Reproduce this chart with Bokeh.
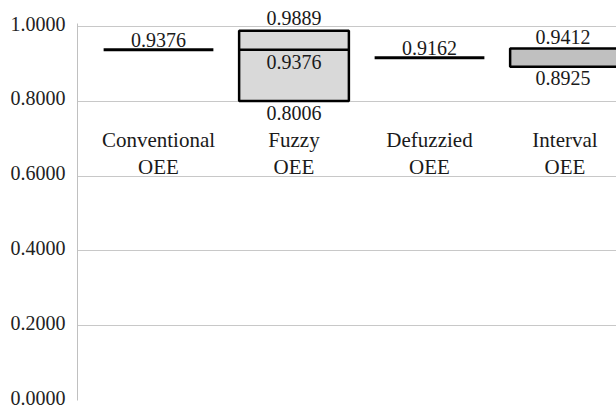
from bokeh.plotting import figure
from bokeh.models import Range1d, FixedTicker
from bokeh.core.properties import value
from bokeh.embed import file_html
from bokeh.resources import INLINE

# ---- data ----
cat_line1 = ["Conventional", "Fuzzy", "Defuzzied", "Interval"]
cat_line2 = ["OEE", "OEE", "OEE", "OEE"]
cat_pos = [1, 2, 3, 4]

# single-value results (drawn as lines)
line_cats = [1, 3]
line_vals = [0.9376, 0.9162]

# fuzzy OEE (triangular: low, mid, high)
fuzzy_low = [0.8006]
fuzzy_mid = [0.9376]
fuzzy_high = [0.9889]

# interval OEE
interval_low = [0.8925]
interval_high = [0.9412]

y_ticks = [0.0, 0.2, 0.4, 0.6, 0.8, 1.0]
y_tick_labels = ["0.0000", "0.2000", "0.4000", "0.6000", "0.8000", "1.0000"]

FONT = value("Liberation Serif")
FS = "20px"
TXT = "#1a1a1a"
W = 0.81
FRAME_H = 400
Y_TOP = 1 + 26 / 374
PX = Y_TOP / FRAME_H        # data units per pixel
LABEL_LIFT = 3 * PX         # axis labels sit slightly above their gridlines

p = figure(width=616, height=410, output_backend="svg", toolbar_location=None,
           x_range=Range1d(0.4022, 4.380), y_range=Range1d(0, Y_TOP),
           min_border_left=77, min_border_right=0, min_border_top=0,
           min_border_bottom=410 - FRAME_H)
p.outline_line_color = None
p.background_fill_color = "white"
p.border_fill_color = "white"

p.xaxis.visible = False
p.xgrid.visible = False

label_pos = [t + LABEL_LIFT for t in y_ticks]
p.yaxis.ticker = FixedTicker(ticks=label_pos)
p.yaxis.major_label_overrides = {pos: lab for pos, lab in zip(label_pos, y_tick_labels)}
p.yaxis.bounds = (0, 1 + LABEL_LIFT * 1.01)
p.yaxis.major_tick_line_color = None
p.yaxis.minor_tick_line_color = None
p.yaxis.major_tick_out = 0
p.yaxis.major_tick_in = 0
p.yaxis.minor_tick_out = 0
p.yaxis.axis_line_color = "#c0c0c0"
p.yaxis.major_label_text_font = "Liberation Serif"
p.yaxis.major_label_text_font_size = FS
p.yaxis.major_label_text_color = "#222222"
p.yaxis.major_label_standoff = 12
p.ygrid.ticker = FixedTicker(ticks=y_ticks)
p.ygrid.grid_line_color = "#c8c8c8"
p.ygrid.grid_line_width = 1

# single value lines
p.segment(x0=[c - W / 2 for c in line_cats], x1=[c + W / 2 for c in line_cats],
          y0=line_vals, y1=line_vals, line_color="black", line_width=3)
p.text(x=line_cats, y=line_vals, text=[f"{v:.4f}" for v in line_vals],
       text_font=FONT, text_font_size=FS, text_color=TXT,
       text_align="center", text_baseline="middle", y_offset=-10)

# fuzzy box
p.quad(left=[2 - W / 2], right=[2 + W / 2], bottom=fuzzy_low, top=fuzzy_high,
       fill_color="#d9d9d9", line_color="black", line_width=2.5)
p.segment(x0=[2 - W / 2], x1=[2 + W / 2], y0=fuzzy_mid, y1=fuzzy_mid,
          line_color="black", line_width=2.5)
p.text(x=[2], y=fuzzy_high, text=[f"{v:.4f}" for v in fuzzy_high],
       text_font=FONT, text_font_size=FS, text_color=TXT,
       text_align="center", text_baseline="middle", y_offset=-13)
p.text(x=[2, 2], y=fuzzy_mid + fuzzy_low,
       text=[f"{v:.4f}" for v in fuzzy_mid + fuzzy_low],
       text_font=FONT, text_font_size=FS, text_color=TXT,
       text_align="center", text_baseline="middle", y_offset=12)

# interval box
p.quad(left=[4 - W / 2], right=[4 + W / 2], bottom=interval_low, top=interval_high,
       fill_color="#c0c0c0", line_color="black", line_width=2.5)
p.text(x=[4], y=interval_high, text=[f"{v:.4f}" for v in interval_high],
       text_font=FONT, text_font_size=FS, text_color=TXT,
       text_align="center", text_baseline="middle", y_offset=-11, x_offset=-2)
p.text(x=[4], y=interval_low, text=[f"{v:.4f}" for v in interval_low],
       text_font=FONT, text_font_size=FS, text_color=TXT,
       text_align="center", text_baseline="middle", y_offset=11, x_offset=-2)

# category labels
p.text(x=cat_pos, y=[0.697] * 4, text=cat_line1, text_font=FONT,
       text_font_size="21px", text_color=TXT,
       text_align="center", text_baseline="middle")
p.text(x=cat_pos, y=[0.697] * 4, text=cat_line2, text_font=FONT,
       text_font_size="21px", text_color=TXT,
       text_align="center", text_baseline="middle", y_offset=27)

open("out.html", "w").write(file_html(p, INLINE))
